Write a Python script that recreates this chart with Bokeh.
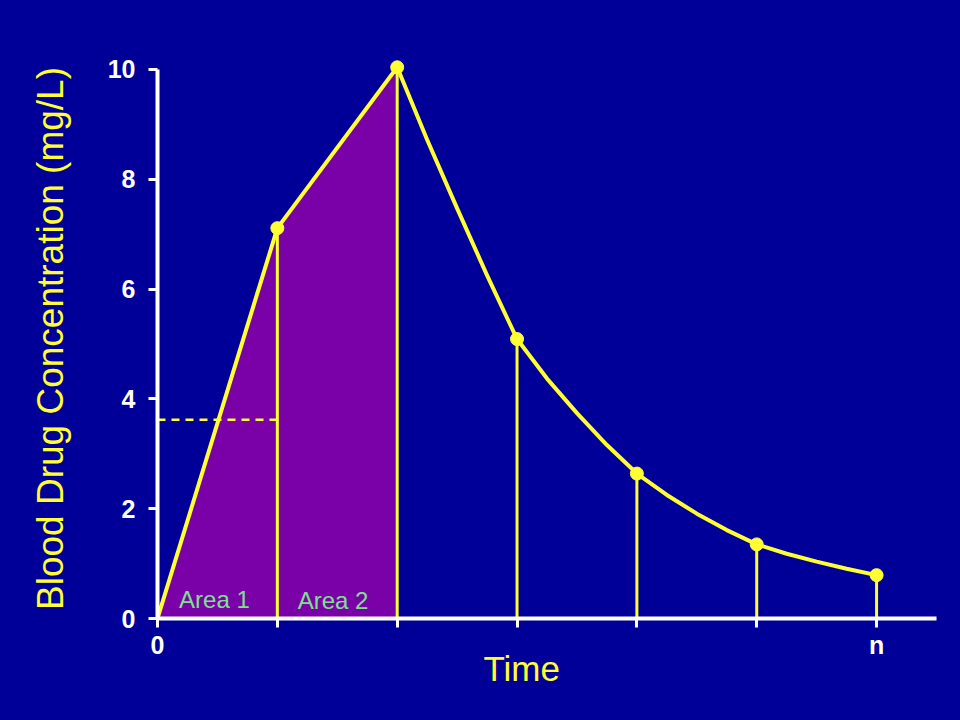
from bokeh.plotting import figure
from bokeh.models import FixedTicker, Title
from bokeh.embed import file_html
from bokeh.resources import INLINE
from bokeh.core.properties import value

# ---- data ----
time_points = [1, 2, 3, 4, 5, 6]
concentration = [7.11, 10.04, 5.09, 2.64, 1.35, 0.79]
curve_x = [0, 1, 2, 2.25, 2.5, 2.75, 3, 3.25, 3.5, 3.75, 4,
           4.25, 4.5, 4.75, 5, 5.25, 5.5, 5.75, 6]
curve_y = [0, 7.11, 10.04, 8.72, 7.47, 6.25, 5.09, 4.37, 3.74, 3.16, 2.64,
           2.25, 1.91, 1.61, 1.35, 1.18, 1.035, 0.905, 0.79]
area_x = [0, 1, 2]
area_y = [0, 7.11, 10.04]
x_ticks = [0, 1, 2, 3, 4, 5, 6]
x_tick_labels = ["0", "", "", "", "", "", "n"]
y_ticks = [0, 2, 4, 6, 8, 10]
half_level = 3.62
area_names = ["Area 1", "Area 2"]
area_name_x = [0.18, 1.17]
area_name_y = [0.35, 0.32]

BG = "#000099"
YELLOW = "#ffff33"
PURPLE = "#7a00a8"
GREEN = "#7fe08c"
FONT = "Liberation Sans"

p = figure(width=960, height=720,
           x_range=(0, 6.5), y_range=(0, 10.2),
           output_backend="svg", toolbar_location=None,
           background_fill_color=BG, border_fill_color=BG,
           min_border_left=157, min_border_right=24,
           min_border_top=58, min_border_bottom=102)
p.styles = {"background-color": BG}
p.outline_line_color = None
p.grid.visible = False

# filled areas under the first two intervals
p.varea(x=area_x, y1=[0] * len(area_x), y2=area_y, fill_color=PURPLE)

# vertical lines at each sampling time
p.segment(x0=time_points, y0=[0] * len(time_points), x1=time_points, y1=concentration,
          line_color=YELLOW, line_width=3)

# dashed level line
p.segment(x0=[0], y0=[half_level], x1=[1], y1=[half_level],
          line_color=YELLOW, line_width=2.5, line_dash="8 6")

# concentration curve
p.line(curve_x, curve_y, line_color=YELLOW, line_width=4, line_join="round")
p.scatter(time_points, concentration, size=13, fill_color=YELLOW, line_color=YELLOW)

# area labels
p.text(x=area_name_x, y=area_name_y, text=area_names, text_color=GREEN,
       text_font=value(FONT), text_font_size="24px", text_baseline="middle",
       text_align="left")

# axes
xax = p.xaxis[0]
xax.ticker = FixedTicker(ticks=x_ticks)
xax.major_label_overrides = {t: lab for t, lab in zip(x_ticks, x_tick_labels)}
yax = p.yaxis[0]
yax.bounds = (0, 10)
yax.ticker = FixedTicker(ticks=y_ticks)

for ax in (xax, yax):
    ax.axis_line_color = "white"
    ax.axis_line_width = 4
    ax.major_tick_line_color = "white"
    ax.major_tick_line_width = 3
    ax.major_tick_out = 9
    ax.major_tick_in = 0
    ax.minor_tick_line_color = None
    ax.major_label_text_color = "white"
    ax.major_label_text_font = FONT
    ax.major_label_text_font_style = "bold"
    ax.major_label_text_font_size = "25px"

xax.major_label_standoff = 3
yax.major_label_standoff = 13
yax.axis_label = "Blood Drug Concentration (mg/L)"
yax.axis_label_text_color = YELLOW
yax.axis_label_text_font = FONT
yax.axis_label_text_font_style = "normal"
yax.axis_label_text_font_size = "37px"
yax.axis_label_standoff = 34

p.add_layout(Title(text="Time", align="left", offset=326, standoff=-30,
                   text_color=YELLOW, text_font=FONT, text_font_size="35px",
                   text_font_style="normal"), "below")

open("out.html", "w").write(file_html(p, INLINE))
